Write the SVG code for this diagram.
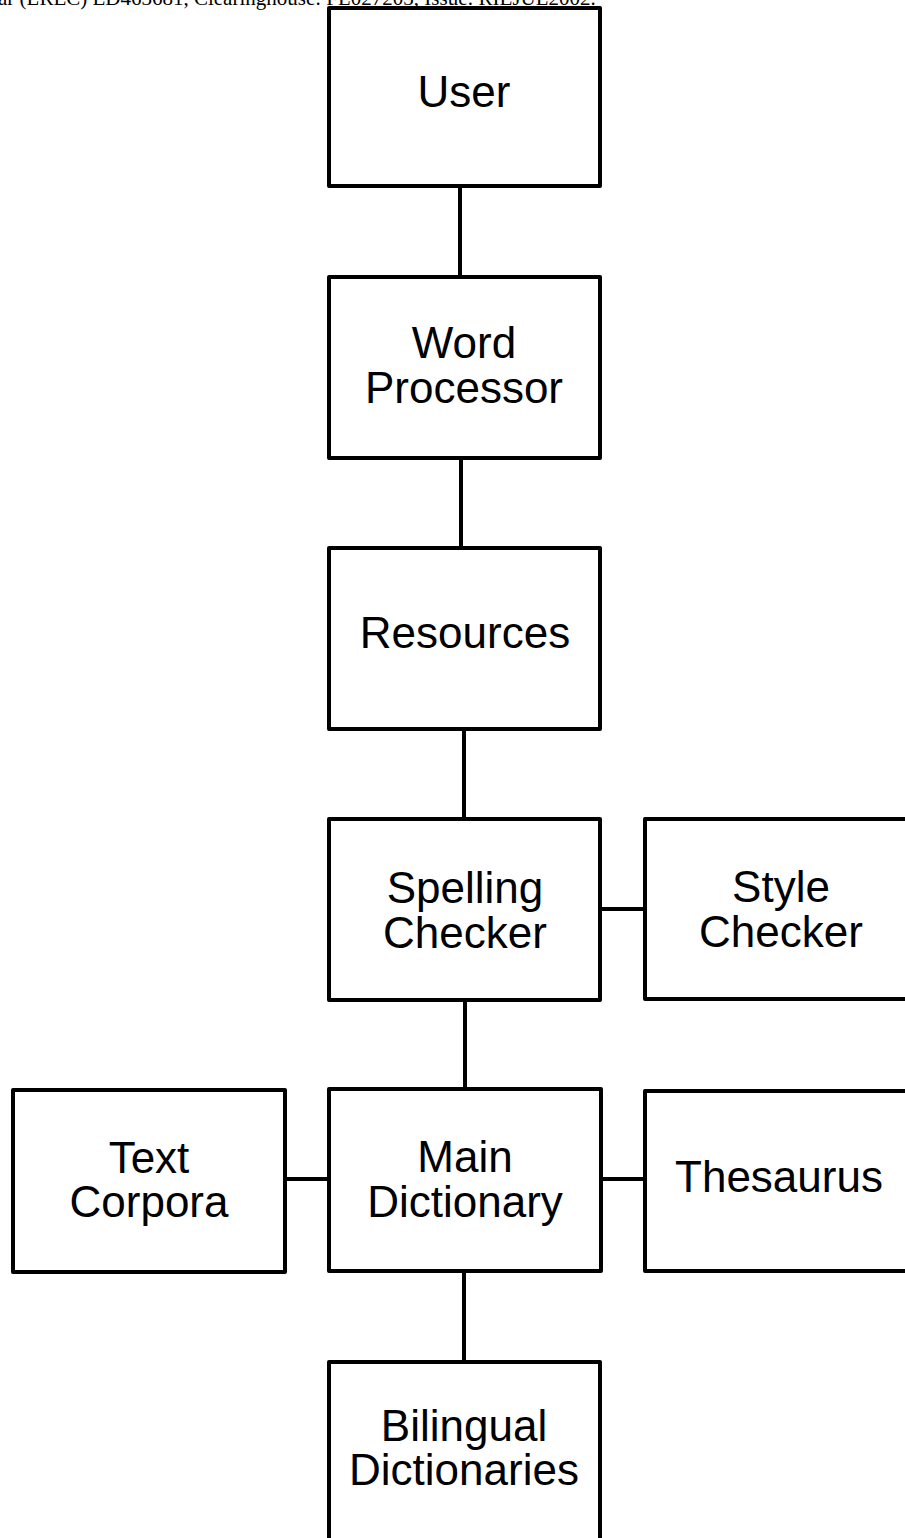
<svg xmlns="http://www.w3.org/2000/svg" width="905" height="1538" viewBox="0 0 905 1538">
<style>
.box{fill:#fff;stroke:#000;stroke-width:4;stroke-linejoin:round}
.lbl{font-family:"Liberation Sans",Arial,sans-serif;font-size:44px;fill:#000;text-anchor:middle}
.con{stroke:#000;stroke-width:4;stroke-linecap:round;fill:none}
.hdr{font-family:"Liberation Serif","Times New Roman",serif;font-size:21px;fill:#000}
</style>
<rect width="905" height="1538" fill="#fff"/>
<text class="hdr" x="-2" y="5">ar (LREC) ED463681, Clearinghouse: FL027203, Issue: RIEJUL2002.</text>
<g id="connectors">
<line class="con" x1="460" y1="186" x2="460" y2="277"/>
<line class="con" x1="461" y1="458" x2="461" y2="548"/>
<line class="con" x1="464" y1="729" x2="464" y2="819"/>
<line class="con" x1="600" y1="909" x2="645" y2="909"/>
<line class="con" x1="465" y1="1000" x2="465" y2="1089"/>
<line class="con" x1="285" y1="1179" x2="329" y2="1179"/>
<line class="con" x1="601" y1="1179" x2="645" y2="1179"/>
<line class="con" x1="464" y1="1268" x2="464" y2="1362"/>
</g>
<g id="user">
<rect class="box" x="329" y="8" width="271" height="178"/>
<text class="lbl" x="464" y="107">User</text>
</g>
<g id="word-processor">
<rect class="box" x="329" y="277" width="271" height="181"/>
<text class="lbl" x="464" y="358">Word</text>
<text class="lbl" x="464" y="403">Processor</text>
</g>
<g id="resources">
<rect class="box" x="329" y="548" width="271" height="181"/>
<text class="lbl" x="465" y="648">Resources</text>
</g>
<g id="spelling-checker">
<rect class="box" x="329" y="819" width="271" height="181"/>
<text class="lbl" x="465" y="903">Spelling</text>
<text class="lbl" x="465" y="948">Checker</text>
</g>
<g id="style-checker">
<rect class="box" x="645" y="819" width="280" height="180"/>
<text class="lbl" x="781" y="902">Style</text>
<text class="lbl" x="781" y="947">Checker</text>
</g>
<g id="text-corpora">
<rect class="box" x="13" y="1090" width="272" height="182"/>
<text class="lbl" x="149" y="1173">Text</text>
<text class="lbl" x="149" y="1217">Corpora</text>
</g>
<g id="main-dictionary">
<rect class="box" x="329" y="1089" width="272" height="182"/>
<text class="lbl" x="465" y="1172">Main</text>
<text class="lbl" x="465" y="1217">Dictionary</text>
</g>
<g id="thesaurus">
<rect class="box" x="645" y="1091" width="280" height="180"/>
<text class="lbl" x="779" y="1192">Thesaurus</text>
</g>
<g id="bilingual-dictionaries">
<rect class="box" x="329" y="1362" width="271" height="200"/>
<text class="lbl" x="464" y="1441">Bilingual</text>
<text class="lbl" x="464" y="1485">Dictionaries</text>
</g>
</svg>
